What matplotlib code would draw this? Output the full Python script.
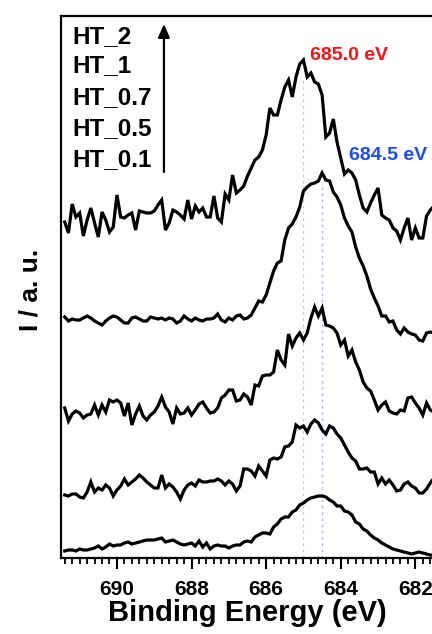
import numpy as np
import matplotlib
matplotlib.use("Agg")
import matplotlib.pyplot as plt
from matplotlib.ticker import MultipleLocator

plt.rcParams['font.family'] = ['Liberation Sans', 'DejaVu Sans']
plt.rcParams['font.weight'] = 'bold'

# Binding energy grid (eV), 691.4 -> 681.5 in 0.1 eV steps
energy_start = 691.4
energy_step = -0.1
n_points = 100

sample_labels = ["HT_2", "HT_1", "HT_0.7", "HT_0.5", "HT_0.1"]

# Stacked intensities (a.u.)
ht_2 = [336, 325, 354, 341, 345, 322, 338, 350, 335, 321,
        346, 338, 326, 331, 363, 341, 340, 343, 345, 328,
        347, 346, 345, 345, 347, 353, 358, 328, 335, 348,
        346, 343, 339, 358, 339, 352, 346, 350, 341, 341,
        362, 340, 336, 364, 358, 383, 365, 368, 372, 382,
        390, 398, 401, 408, 423, 450, 443, 443, 458, 471,
        478, 461, 481, 494, 498, 481, 485, 476, 474, 463,
        421, 425, 439, 416, 400, 384, 388, 385, 378, 363,
        350, 346, 355, 363, 370, 343, 340, 338, 330, 327,
        318, 330, 340, 318, 330, 320, 320, 342, 348, 352]

ht_1 = [241, 237, 239, 238, 238, 240, 242, 240, 237, 235,
        233, 237, 240, 242, 241, 238, 235, 235, 240, 241,
        239, 237, 237, 241, 240, 239, 240, 238, 240, 239,
        235, 237, 242, 239, 237, 240, 238, 237, 239, 239,
        240, 244, 238, 236, 240, 238, 242, 243, 239, 240,
        243, 250, 257, 256, 263, 275, 287, 295, 297, 318,
        330, 334, 341, 351, 367, 371, 374, 375, 377, 385,
        378, 377, 366, 361, 353, 340, 332, 326, 311, 300,
        292, 282, 269, 260, 252, 242, 242, 236, 237, 228,
        224, 230, 226, 224, 223, 218, 217, 225, 226, 225]

ht_07 = [150, 137, 144, 147, 145, 140, 143, 144, 153, 143,
         153, 146, 158, 156, 158, 155, 142, 155, 133, 144,
         152, 142, 138, 143, 146, 152, 161, 151, 146, 134,
         150, 144, 145, 150, 143, 148, 154, 156, 150, 145,
         146, 150, 160, 163, 168, 168, 157, 158, 164, 161,
         153, 173, 172, 182, 183, 183, 186, 208, 198, 193,
         224, 212, 220, 225, 218, 225, 240, 251, 242, 250,
         233, 232, 230, 225, 213, 218, 202, 208, 196, 188,
         176, 170, 167, 158, 148, 153, 156, 147, 145, 144,
         148, 147, 160, 161, 155, 150, 143, 155, 148, 146]

ht_05 = [63, 62, 64, 64, 61, 60, 66, 76, 66, 70,
         68, 73, 70, 62, 68, 72, 79, 73, 76, 79,
         83, 80, 76, 73, 70, 70, 83, 70, 74, 71,
         66, 59, 68, 73, 75, 72, 78, 76, 76, 77,
         77, 79, 77, 73, 77, 74, 67, 72, 89, 89,
         87, 82, 92, 87, 82, 98, 100, 99, 101, 111,
         112, 116, 133, 130, 132, 126, 134, 138, 135, 128,
         124, 132, 130, 124, 120, 113, 106, 100, 97, 89,
         89, 90, 86, 86, 74, 80, 74, 78, 73, 67,
         68, 74, 76, 72, 70, 65, 65, 69, 75, 80]

ht_01 = [7, 8, 8, 7, 9, 8, 8, 9, 10, 12,
         9, 11, 14, 12, 13, 13, 15, 16, 14, 15,
         16, 17, 18, 18, 18, 19, 20, 16, 17, 18,
         16, 14, 13, 14, 15, 12, 17, 11, 15, 9,
         12, 13, 12, 12, 10, 12, 13, 13, 16, 17,
         16, 21, 23, 25, 25, 24, 31, 34, 39, 41,
         41, 46, 48, 53, 55, 58, 60, 61, 62, 62,
         61, 58, 56, 52, 52, 47, 46, 43, 36, 34,
         29, 27, 23, 20, 18, 15, 13, 11, 9, 8,
         7, 6, 5, 4, 5, 6, 5, 4, 3, 3]

peak_positions = [685.0, 684.5]
peak_labels = ["685.0 eV", "684.5 eV"]

energy = energy_start + energy_step * np.arange(n_points)

W, H = 432, 634
fig = plt.figure(figsize=(W / 100, H / 100), dpi=100)
ax = fig.add_axes([61 / W, 1 - 558 / H, 373 / W, 542 / H])

for series in [ht_2, ht_1, ht_07, ht_05, ht_01]:
    ax.plot(energy, series, color='black', lw=2.3, solid_joinstyle='miter', zorder=3)

# Reference peak lines
ax.plot([peak_positions[0]] * 2, [0, 480], color='#ffb0b0', lw=0.9,
        linestyle=(0, (2, 3)), zorder=1)
ax.plot([peak_positions[1]] * 2, [0, 371], color='#b0b0ff', lw=0.9,
        linestyle=(0, (2, 3)), zorder=1)
ax.text(684.82, 503, peak_labels[0], color='#ff1010', fontsize=14,
        fontweight='bold', ha='left', va='center')
ax.text(683.78, 402, peak_labels[1], color='#1a4cff', fontsize=14,
        fontweight='bold', ha='left', va='center')

# Sample labels with arrow
label_ys = [521, 492, 460, 429, 398]
for lab, yy in zip(sample_labels, label_ys):
    ax.text(691.2, yy, lab, fontsize=17.5, fontweight='bold', ha='left', va='center')
ax.annotate('', xy=(688.74, 534), xytext=(688.74, 386),
            arrowprops=dict(arrowstyle='-|>,head_length=0.8,head_width=0.35',
                            color='black', lw=1.6, shrinkA=0, shrinkB=0))

ax.set_xlim(691.5, 681.5)
ax.set_ylim(0, 542)
ax.set_yticks([])
ax.xaxis.set_major_locator(MultipleLocator(2))
ax.xaxis.set_minor_locator(MultipleLocator(0.2))
ax.tick_params(axis='x', which='major', direction='out', length=8, width=1.5,
               labelsize=15, pad=8)
ax.tick_params(axis='x', which='minor', direction='out', length=4.5, width=1.3)
for lab in ax.get_xticklabels():
    lab.set_fontweight('bold')
for s in ['left', 'top', 'bottom']:
    ax.spines[s].set_linewidth(1.6)
ax.spines['right'].set_visible(False)

ax.set_xlabel('Binding Energy (eV)', fontsize=21, fontweight='bold', labelpad=0)
fig.text(31 / W, 1 - 290 / H, 'I / a. u.', rotation=90, fontsize=19,
         fontweight='bold', ha='center', va='center')

fig.savefig('out.png', dpi=100)
